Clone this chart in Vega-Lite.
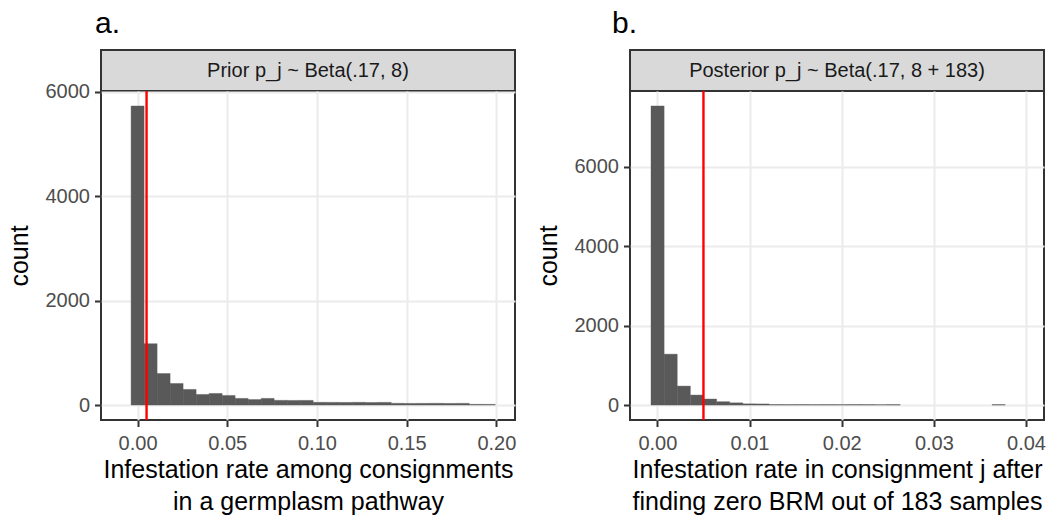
{
  "$schema": "https://vega.github.io/schema/vega-lite/v6.json",
  "padding": {"left": 6, "top": 8, "right": 5, "bottom": 0},
  "background": "white",
  "config": {
    "font": "Liberation Sans",
    "view": {"stroke": "#333333", "strokeWidth": 2},
    "axis": {
      "domain": false,
      "grid": true,
      "gridColor": "#EBEBEB",
      "gridWidth": 2,
      "tickColor": "#333333",
      "tickSize": 6.5,
      "tickWidth": 2,
      "labelFont": "Liberation Sans",
      "labelFontSize": 20,
      "labelColor": "#4D4D4D",
      "labelPadding": 5,
      "labelFlush": false,
      "labelOverlap": false,
      "titleFont": "Liberation Sans",
      "titleFontSize": 25,
      "titleFontWeight": "normal",
      "titleColor": "#000000"
    },
    "axisX": {"labelPadding": 7, "titlePadding": 4, "titleLineHeight": 32},
    "axisY": {"minExtent": 57, "maxExtent": 57, "titlePadding": 11.5}
  },
  "datasets": {
    "prior": [
      {"x0": -0.003625, "x1": 0.003625, "count": 5732},
      {"x0": 0.003625, "x1": 0.010875, "count": 1176},
      {"x0": 0.010875, "x1": 0.018125, "count": 604},
      {"x0": 0.018125, "x1": 0.025375, "count": 413},
      {"x0": 0.025375, "x1": 0.032625, "count": 299},
      {"x0": 0.032625, "x1": 0.039875, "count": 203},
      {"x0": 0.039875, "x1": 0.047125, "count": 222},
      {"x0": 0.047125, "x1": 0.054375, "count": 184},
      {"x0": 0.054375, "x1": 0.061625, "count": 127},
      {"x0": 0.061625, "x1": 0.068875, "count": 105},
      {"x0": 0.068875, "x1": 0.076125, "count": 127},
      {"x0": 0.076125, "x1": 0.083375, "count": 90},
      {"x0": 0.083375, "x1": 0.090625, "count": 88},
      {"x0": 0.090625, "x1": 0.097875, "count": 89},
      {"x0": 0.097875, "x1": 0.105125, "count": 52},
      {"x0": 0.105125, "x1": 0.112375, "count": 51},
      {"x0": 0.112375, "x1": 0.119625, "count": 50},
      {"x0": 0.119625, "x1": 0.126875, "count": 52},
      {"x0": 0.126875, "x1": 0.134125, "count": 49},
      {"x0": 0.134125, "x1": 0.141375, "count": 51},
      {"x0": 0.141375, "x1": 0.148625, "count": 33},
      {"x0": 0.148625, "x1": 0.155875, "count": 31},
      {"x0": 0.155875, "x1": 0.163125, "count": 32},
      {"x0": 0.163125, "x1": 0.170375, "count": 33},
      {"x0": 0.170375, "x1": 0.177625, "count": 31},
      {"x0": 0.177625, "x1": 0.184875, "count": 32},
      {"x0": 0.184875, "x1": 0.192125, "count": 13},
      {"x0": 0.192125, "x1": 0.199375, "count": 12}
    ],
    "post": [
      {"x0": -0.00069, "x1": 0.000733, "count": 7533},
      {"x0": 0.000733, "x1": 0.002156, "count": 1281},
      {"x0": 0.002156, "x1": 0.003579, "count": 477},
      {"x0": 0.003579, "x1": 0.005002, "count": 251},
      {"x0": 0.005002, "x1": 0.006425, "count": 151},
      {"x0": 0.006425, "x1": 0.007848, "count": 84},
      {"x0": 0.007848, "x1": 0.009271, "count": 55},
      {"x0": 0.009271, "x1": 0.010694, "count": 30},
      {"x0": 0.010694, "x1": 0.012117, "count": 27},
      {"x0": 0.012117, "x1": 0.01354, "count": 12},
      {"x0": 0.01354, "x1": 0.014963, "count": 11},
      {"x0": 0.014963, "x1": 0.016386, "count": 12},
      {"x0": 0.016386, "x1": 0.017809, "count": 10},
      {"x0": 0.017809, "x1": 0.019232, "count": 11},
      {"x0": 0.019232, "x1": 0.020655, "count": 10},
      {"x0": 0.020655, "x1": 0.022078, "count": 12},
      {"x0": 0.022078, "x1": 0.023501, "count": 11},
      {"x0": 0.023501, "x1": 0.024924, "count": 10},
      {"x0": 0.024924, "x1": 0.026347, "count": 11},
      {"x0": 0.036308, "x1": 0.037731, "count": 11}
    ]
  },
  "spacing": 18,
  "hconcat": [
    {
      "bounds": "flush",
      "spacing": 0,
      "vconcat": [
        {
          "width": 414,
          "height": 41,
          "data": {"values": [{"label": "Prior p_j ~ Beta(.17, 8)"}]},
          "view": {"fill": "#D9D9D9", "stroke": "#333333", "strokeWidth": 2},
          "title": {"text": "a.", "anchor": "start", "frame": "group", "fontSize": 30, "fontWeight": "normal", "color": "#000000", "font": "Liberation Sans", "baseline": "alphabetic", "offset": -13, "dx": -6},
          "mark": {"type": "text", "fontSize": 20, "color": "#1A1A1A", "baseline": "middle", "font": "Liberation Sans"},
          "encoding": {"text": {"field": "label", "type": "nominal"}}
        },
        {
          "width": 414,
          "height": 329,
          "layer": [
            {
              "data": {"name": "prior"},
              "mark": {"type": "bar", "color": "#595959", "stroke": "#595959", "strokeWidth": 0.4},
              "encoding": {
                "x": {"field": "x0", "type": "quantitative", "scale": {"domain": [-0.0204, 0.2104], "nice": false, "zero": false},
                      "axis": {"values": [0, 0.05, 0.1, 0.15, 0.2], "format": ".2f", "title": ["Infestation rate among consignments", "in a germplasm pathway"]}},
                "x2": {"field": "x1"},
                "y": {"field": "count", "type": "quantitative", "scale": {"domain": [-287, 6019], "nice": false},
                      "axis": {"values": [0, 2000, 4000, 6000], "format": "d", "title": "count"}},
                "y2": {"datum": 0}
              }
            },
            {
              "data": {"values": [{"v": 0.005}]},
              "mark": {"type": "rule", "color": "#FF0000", "strokeWidth": 2.4},
              "encoding": {"x": {"field": "v", "type": "quantitative"}}
            }
          ]
        }
      ]
    },
    {
      "bounds": "flush",
      "spacing": 0,
      "vconcat": [
        {
          "width": 414,
          "height": 41,
          "data": {"values": [{"label": "Posterior p_j ~ Beta(.17, 8 + 183)"}]},
          "view": {"fill": "#D9D9D9", "stroke": "#333333", "strokeWidth": 2},
          "title": {"text": "b.", "anchor": "start", "frame": "group", "fontSize": 30, "fontWeight": "normal", "color": "#000000", "font": "Liberation Sans", "baseline": "alphabetic", "offset": -13, "dx": -18},
          "mark": {"type": "text", "fontSize": 20, "color": "#1A1A1A", "baseline": "middle", "font": "Liberation Sans"},
          "encoding": {"text": {"field": "label", "type": "nominal"}}
        },
        {
          "width": 414,
          "height": 329,
          "layer": [
            {
              "data": {"name": "post"},
              "mark": {"type": "bar", "color": "#595959", "stroke": "#595959", "strokeWidth": 0.4},
              "encoding": {
                "x": {"field": "x0", "type": "quantitative", "scale": {"domain": [-0.00297, 0.04195], "nice": false, "zero": false},
                      "axis": {"values": [0, 0.01, 0.02, 0.03, 0.04], "format": ".2f", "title": ["Infestation rate in consignment j after", "finding zero BRM out of 183 samples"]}},
                "x2": {"field": "x1"},
                "y": {"field": "count", "type": "quantitative", "scale": {"domain": [-377, 7910], "nice": false},
                      "axis": {"values": [0, 2000, 4000, 6000], "format": "d", "title": "count"}},
                "y2": {"datum": 0}
              }
            },
            {
              "data": {"values": [{"v": 0.005}]},
              "mark": {"type": "rule", "color": "#FF0000", "strokeWidth": 2.4},
              "encoding": {"x": {"field": "v", "type": "quantitative"}}
            }
          ]
        }
      ]
    }
  ]
}
